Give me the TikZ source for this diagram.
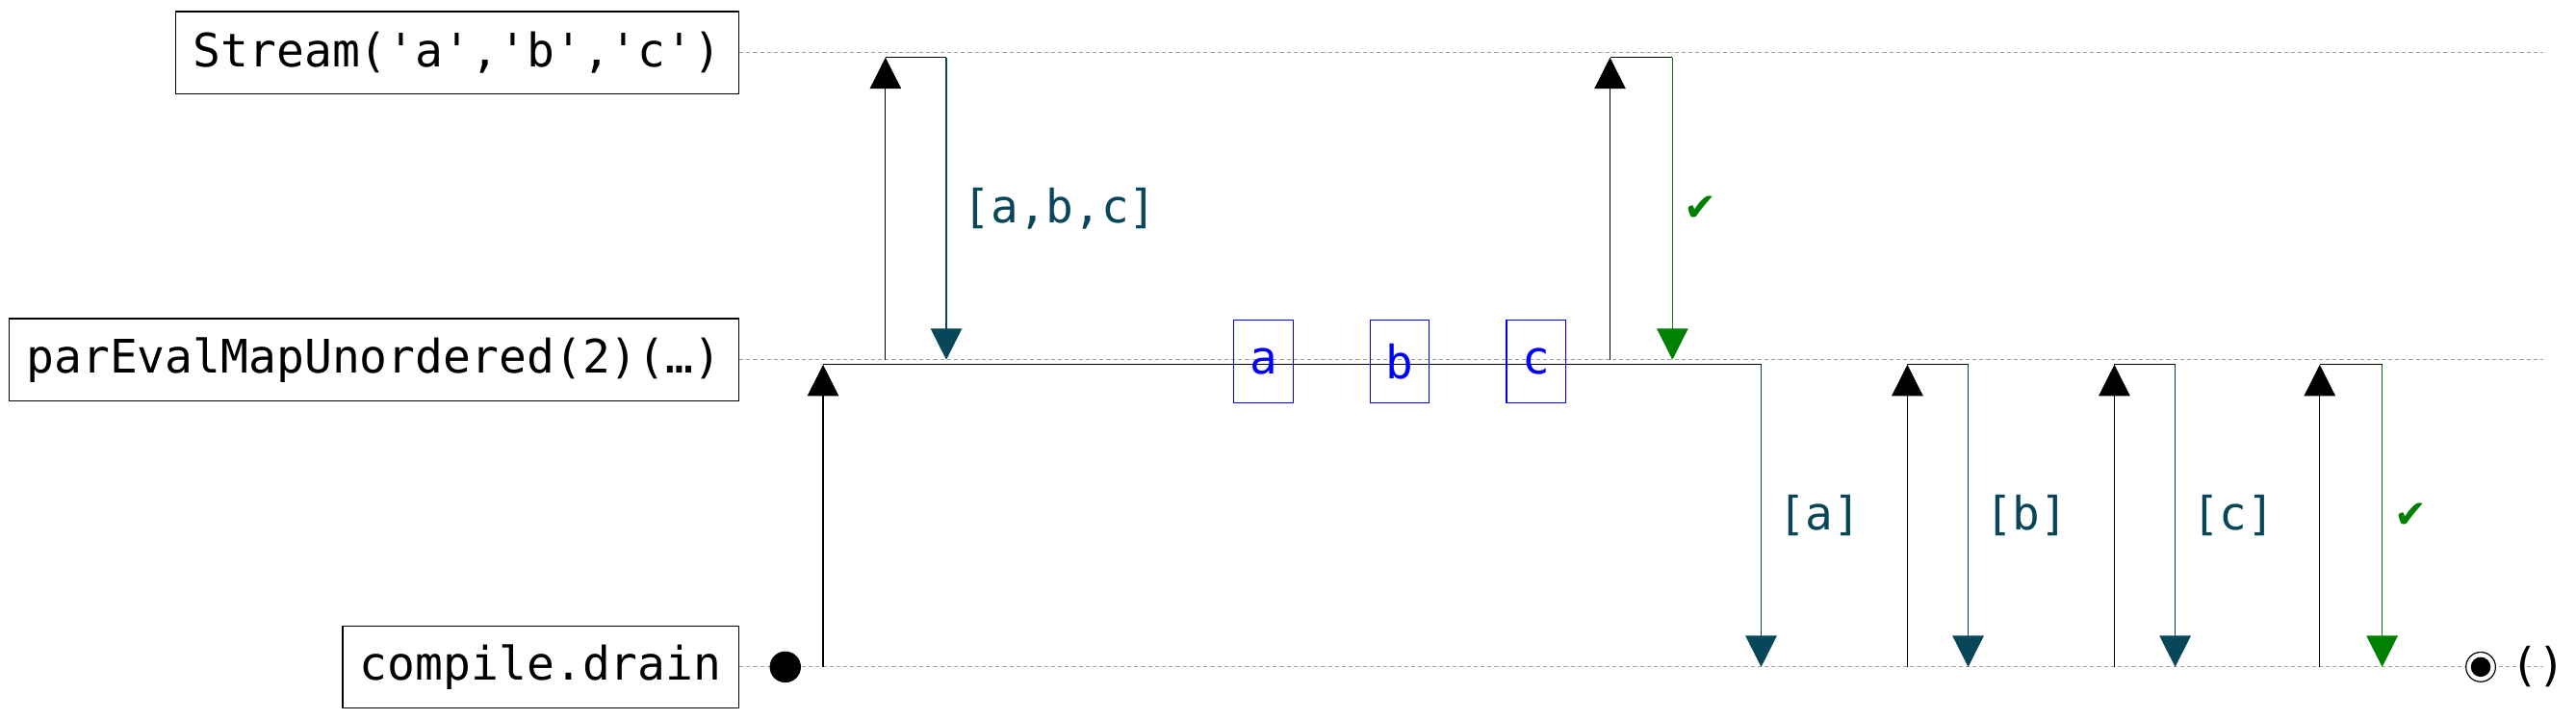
\documentclass[tikz,border=0pt]{standalone}
\usepackage{fontspec}
\usepackage{tikz}
\usetikzlibrary{arrows.meta,positioning}
\newfontfamily\codefont{DejaVu Sans Mono}[Ligatures=TeXOff]
\newfontfamily\symfont{DejaVu Sans}
\definecolor{answer}{HTML}{08465A}
\definecolor{finish}{HTML}{008000}
\definecolor{item}{HTML}{0000FF}
\definecolor{grid}{HTML}{A0A0A0}
\tikzset{
  actor/.style={draw=black,fill=white,thin,anchor=east,inner xsep=0.21cm,
    minimum height=1cm,font=\codefont\fontsize{16}{19}\selectfont},
  lifeline/.style={draw=grid,thin,dash pattern=on 1.4pt off 1pt},
  elem/.style={draw=item,text=item,thin,minimum width=0.72cm,minimum height=1cm,
    inner sep=0pt,font=\codefont\fontsize{15.9}{19}\selectfont},
  call/.style={-{Triangle[length=0.38cm,width=0.38cm]},draw=black,thin},
  back/.style={-{Triangle[length=0.38cm,width=0.38cm]},draw=#1,thin},
  msglabel/.style={anchor=west,inner xsep=0.2cm,text=#1,
    font=\codefont\fontsize{15.9}{19}\selectfont},
  startdot/.style={circle,fill=black,minimum size=0.38cm,inner sep=0pt},
  enddot/.style={circle,draw=black,thin,fill=white,minimum size=0.36cm,inner sep=0pt,
    path picture={\fill[black] (path picture bounding box.center) circle (0.12cm);}}
}
\newcommand{\okmark}{{\symfont\fontsize{13.5}{16}\selectfont\kern-0.06cm ✔}}

\begin{document}
\begin{tikzpicture}[x=0.02cm,y=-0.02cm]
  \useasboundingbox (0,0) rectangle (1568,438);
  \node[actor] (stream) at (450,32) {Stream('a','b','c')};
  \node[actor] (pareval) at (450,219) {parEvalMapUnordered(2)(…)};
  \node[actor] (drain) at (450,406) {compile.drain};
  \foreach \n in {stream,pareval,drain}
    \draw[lifeline] (\n.east) -- ++(1098,0);
  \node[startdot] (start) at (478,406) {};
  \node[enddot] (stop) at (1510,406) {};
  \node[font=\codefont\fontsize{15.9}{19}\selectfont] (unit) at (1545,406) {()};
  % requests go up, replies come back down
  \foreach \xu/\xd/\ylo/\yhi/\col/\lbl [count=\i] in {
      501/1072/406/222/answer/{[a]},
      539/576/219/35/answer/{[a,b,c]},
      980/1018/219/35/finish/{\okmark},
      1161/1198/406/222/answer/{[b]},
      1287/1324/406/222/answer/{[c]},
      1412/1450/406/222/finish/{\okmark}}{
    \coordinate (ask\i) at (\xu,\ylo);
    \coordinate (got\i) at (\xu,\yhi);
    \coordinate (ret\i) at (\xd,\yhi);
    \coordinate (end\i) at (\xd,\ylo);
    \draw[call] (ask\i) -- (got\i);
    \draw[thin] (got\i) -- (ret\i);
    \draw[back=\col] (ret\i) -- node[msglabel=\col] {\lbl} (end\i);
  }
  \foreach \e/\x in {a/769,b/852,c/935}
    \node[elem] (elem-\e) at (\x,220) {\e};
\end{tikzpicture}
\end{document}
